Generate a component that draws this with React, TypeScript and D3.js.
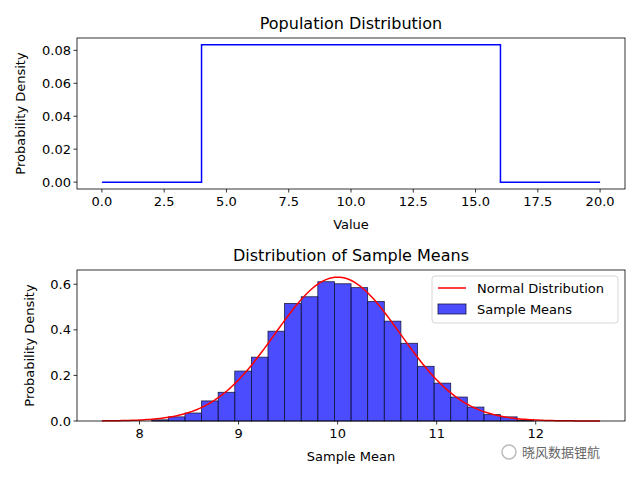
import React from 'react';
import * as d3 from 'd3';

// population: uniform(4, 16)
const popX = [0, 4, 4, 16, 16, 20];
const popY = [0, 0, 1 / 12, 1 / 12, 0, 0];

// histogram of sample means: 30 bins from 7.62 to 12.65
const binStart = 7.62;
const binWidth = 0.1677;
const binHeights = [
  0, 0, 0, 0.005, 0.018, 0.035, 0.088, 0.126, 0.219, 0.28,
  0.394, 0.516, 0.545, 0.611, 0.602, 0.585, 0.524, 0.438, 0.341, 0.24,
  0.166, 0.105, 0.061, 0.028, 0.018, 0.004, 0, 0, 0, 0,
];
const normMean = 10;
const normSd = 0.632;
const curveRange = [7.62, 12.65];

const popXTicks = [0, 2.5, 5, 7.5, 10, 12.5, 15, 17.5, 20];
const popYTicks = [0, 0.02, 0.04, 0.06, 0.08];
const meanXTicks = [8, 9, 10, 11, 12];
const meanYTicks = [0, 0.2, 0.4, 0.6];

const font = 'DejaVu Sans, sans-serif';

const App: React.FC = () => {
  const W = 640, H = 480;
  const left = 77, right = 625;

  // top panel
  const t = { top: 38, bottom: 189 };
  const x1 = d3.scaleLinear().domain([-1, 21]).range([left, right]);
  const y1 = d3.scaleLinear().domain([-0.00417, 0.0875]).range([t.bottom, t.top]);
  const popLine = d3.line<number>().x((d, i) => x1(popX[i])).y(d => y1(d));

  // bottom panel
  const b = { top: 270, bottom: 421 };
  const x2 = d3.scaleLinear().domain([7.3685, 12.9015]).range([left, right]);
  const y2 = d3.scaleLinear().domain([0, 0.6625]).range([b.bottom, b.top]);
  const pdf = (x: number) => Math.exp(-0.5 * ((x - normMean) / normSd) ** 2) / (normSd * Math.sqrt(2 * Math.PI));
  const curveXs = d3.range(200).map(i => curveRange[0] + (i / 199) * (curveRange[1] - curveRange[0]));
  const normLine = d3.line<number>().x(d => x2(d)).y(d => y2(pdf(d)));

  const tickText = { fontFamily: font, fontSize: 13, fill: '#000' } as const;

  return (
    <svg width={W} height={H} style={{ position: 'absolute', left: 0, top: 0, background: '#fff' }}>
      {/* top */}
      <text x={(left + right) / 2} y={t.top - 9} textAnchor="middle" fontFamily={font} fontSize={16}>Population Distribution</text>
      <path d={popLine(popY) ?? ''} fill="none" stroke="#0000ff" strokeWidth={1.5} />
      <rect x={left} y={t.top} width={right - left} height={t.bottom - t.top} fill="none" stroke="#000" strokeWidth={0.8} />
      {popXTicks.map(v => (
        <g key={v} transform={`translate(${x1(v)},${t.bottom})`}>
          <line y2={3.5} stroke="#000" strokeWidth={0.8} />
          <text y={17} textAnchor="middle" {...tickText}>{v.toFixed(1)}</text>
        </g>
      ))}
      {popYTicks.map(v => (
        <g key={v} transform={`translate(${left},${y1(v)})`}>
          <line x2={-3.5} stroke="#000" strokeWidth={0.8} />
          <text x={-6} dy="0.35em" textAnchor="end" {...tickText}>{v.toFixed(2)}</text>
        </g>
      ))}
      <text x={(left + right) / 2} y={t.bottom + 40} textAnchor="middle" fontFamily={font} fontSize={13}>Value</text>
      <text transform={`translate(25,${(t.top + t.bottom) / 2}) rotate(-90)`} textAnchor="middle" fontFamily={font} fontSize={13}>Probability Density</text>

      {/* bottom */}
      <text x={(left + right) / 2} y={b.top - 9} textAnchor="middle" fontFamily={font} fontSize={16}>Distribution of Sample Means</text>
      {binHeights.map((h, i) => h > 0 && (
        <rect key={i} x={x2(binStart + i * binWidth)} y={y2(h)}
          width={x2(binStart + (i + 1) * binWidth) - x2(binStart + i * binWidth)} height={y2(0) - y2(h)}
          fill="rgba(0,0,255,0.7)" stroke="#1a1a40" strokeWidth={0.8} />
      ))}
      <path d={normLine(curveXs) ?? ''} fill="none" stroke="#ff0000" strokeWidth={1.5} />
      <rect x={left} y={b.top} width={right - left} height={b.bottom - b.top} fill="none" stroke="#000" strokeWidth={0.8} />
      {meanXTicks.map(v => (
        <g key={v} transform={`translate(${x2(v)},${b.bottom})`}>
          <line y2={3.5} stroke="#000" strokeWidth={0.8} />
          <text y={17} textAnchor="middle" {...tickText}>{v}</text>
        </g>
      ))}
      {meanYTicks.map(v => (
        <g key={v} transform={`translate(${left},${y2(v)})`}>
          <line x2={-3.5} stroke="#000" strokeWidth={0.8} />
          <text x={-6} dy="0.35em" textAnchor="end" {...tickText}>{v.toFixed(1)}</text>
        </g>
      ))}
      <text x={(left + right) / 2} y={b.bottom + 40} textAnchor="middle" fontFamily={font} fontSize={13}>Sample Mean</text>
      <text transform={`translate(34,${(b.top + b.bottom) / 2}) rotate(-90)`} textAnchor="middle" fontFamily={font} fontSize={13}>Probability Density</text>

      {/* legend */}
      <g transform={`translate(432,276)`}>
        <rect width={186} height={47} rx={3} fill="#fff" fillOpacity={0.8} stroke="#ccc" strokeWidth={0.8} />
        <line x1={6} x2={34} y1={12} y2={12} stroke="#ff0000" strokeWidth={1.5} />
        <text x={45} y={12} dy="0.35em" fontFamily={font} fontSize={13}>Normal Distribution</text>
        <rect x={6} y={28} width={28} height={10} fill="rgba(0,0,255,0.7)" stroke="#1a1a40" strokeWidth={0.8} />
        <text x={45} y={33} dy="0.35em" fontFamily={font} fontSize={13}>Sample Means</text>
      </g>

      {/* watermark */}
      <circle cx={509} cy={452} r={7} fill="none" stroke="#bbb" strokeWidth={1.5} />
      <text x={522} y={457} fontFamily="Noto Sans CJK SC, sans-serif" fontSize={13} fill="#666">晓风数据锂航</text>
    </svg>
  );
};

export default App;
